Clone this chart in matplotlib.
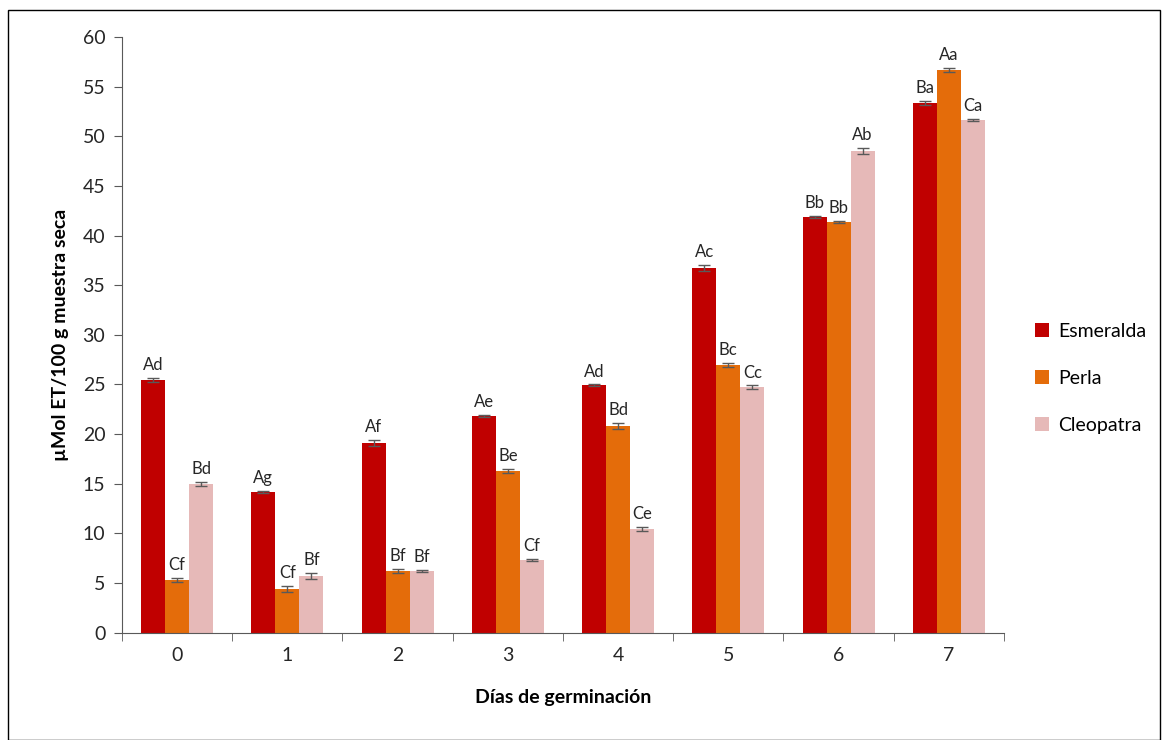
import matplotlib.pyplot as plt
import numpy as np
from matplotlib.patches import Rectangle

plt.rcParams['font.family'] = ['Lato', 'DejaVu Sans']

dias = ["0", "1", "2", "3", "4", "5", "6", "7"]
variedades = ["Esmeralda", "Perla", "Cleopatra"]
colores = ["#C00000", "#E46C0A", "#E6B9B8"]

esmeralda = [25.5, 14.2, 19.1, 21.8, 24.9, 36.7, 41.9, 53.4]
perla = [5.3, 4.4, 6.2, 16.3, 20.8, 27.0, 41.4, 56.7]
cleopatra = [15.0, 5.7, 6.2, 7.3, 10.4, 24.7, 48.5, 51.6]

err_esmeralda = [0.2, 0.1, 0.3, 0.1, 0.1, 0.3, 0.1, 0.2]
err_perla = [0.2, 0.3, 0.2, 0.2, 0.3, 0.2, 0.1, 0.2]
err_cleopatra = [0.2, 0.3, 0.1, 0.1, 0.2, 0.2, 0.3, 0.1]

letras_esmeralda = ["Ad", "Ag", "Af", "Ae", "Ad", "Ac", "Bb", "Ba"]
letras_perla = ["Cf", "Cf", "Bf", "Be", "Bd", "Bc", "Bb", "Aa"]
letras_cleopatra = ["Bd", "Bf", "Bf", "Cf", "Ce", "Cc", "Ab", "Ca"]

series = [esmeralda, perla, cleopatra]
errores = [err_esmeralda, err_perla, err_cleopatra]
letras = [letras_esmeralda, letras_perla, letras_cleopatra]

fig = plt.figure(figsize=(11.62, 7.4), dpi=100)
ax = fig.add_axes([0.105, 0.145, 0.759, 0.805])

x = np.arange(len(dias))
ancho = 0.218

for i, (vals, errs, labs) in enumerate(zip(series, errores, letras)):
    pos = x + (i - 1) * ancho
    ax.bar(pos, vals, width=ancho, color=colores[i], label=variedades[i],
           yerr=errs, capsize=4, error_kw=dict(ecolor="#595959", elinewidth=1, capthick=1))
    for p, v, e, t in zip(pos, vals, errs, labs):
        ax.text(p, v + e + 0.5, t, ha="center", va="bottom", fontsize=12, color="#262626")

ax.set_xlim(-0.5, 7.5)
ax.set_ylim(0, 60)
ax.set_yticks(np.arange(0, 61, 5))
ax.set_xticks(x)
ax.set_xticklabels(dias, fontsize=14)
ax.tick_params(axis="x", length=0, pad=10)
ax.set_xticks(np.arange(-0.5, 8, 1), minor=True)
ax.tick_params(axis="x", which="minor", length=6, color="#595959")
ax.tick_params(axis="y", labelsize=14, length=6, color="#595959", pad=6)
for lbl in ax.get_yticklabels() + ax.get_xticklabels():
    lbl.set_color("#262626")

ax.spines["top"].set_visible(False)
ax.spines["right"].set_visible(False)
ax.spines["left"].set_color("#595959")
ax.spines["bottom"].set_color("#595959")

ax.set_xlabel("Días de germinación", fontsize=14, fontweight="bold", labelpad=18)
ax.set_ylabel("µMol ET/100 g muestra seca", fontsize=14, fontweight="bold", labelpad=10)

ax.legend(loc="center left", bbox_to_anchor=(1.015, 0.427), frameon=False, fontsize=14,
          handlelength=0.75, handleheight=0.75, labelspacing=1.55, handletextpad=0.45)

fig.patches.append(Rectangle((0.007, 0.0), 0.991, 0.986, transform=fig.transFigure,
                             fill=False, edgecolor="black", linewidth=1))

fig.savefig("out.png", dpi=100)
